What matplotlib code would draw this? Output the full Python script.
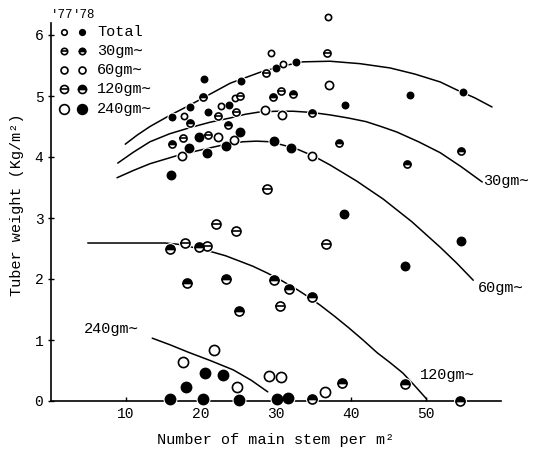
import matplotlib
matplotlib.use("Agg")
import matplotlib.pyplot as plt

FONT = ["Liberation Mono", "DejaVu Sans Mono"]
plt.rcParams["font.family"] = FONT

# ---- observations: number of main stems per m2 vs tuber weight (kg/m2) ----
total77_x = [36.9, 29.3, 30.9, 17.7, 22.7, 24.5]
total77_y = [6.30, 5.70, 5.52, 4.68, 4.84, 4.97]
total78_x = [20.4, 25.3, 30.0, 32.7, 39.2, 18.5, 16.1, 20.9, 23.7, 47.9, 54.9]
total78_y = [5.28, 5.25, 5.46, 5.55, 4.85, 4.82, 4.65, 4.74, 4.85, 5.02, 5.07]

g30_77_x = [36.8, 28.7, 25.2, 22.3, 24.7, 30.7, 17.6, 20.9]
g30_77_y = [5.70, 5.38, 5.00, 4.68, 4.74, 5.08, 4.31, 4.36]
g30_78_x = [20.3, 18.5, 23.6, 29.6, 32.3, 34.8, 16.1, 38.4, 47.5, 54.7]
g30_78_y = [4.98, 4.56, 4.52, 4.98, 5.03, 4.72, 4.21, 4.23, 3.89, 4.10]

g60_77_x = [37.1, 28.5, 30.8, 22.3, 17.5, 24.4, 34.8]
g60_77_y = [5.18, 4.77, 4.69, 4.33, 4.02, 4.28, 4.02]
g60_78_x = [18.4, 20.8, 23.3, 25.2, 19.7, 29.7, 32.0, 16.0, 39.1, 54.7, 47.2]
g60_78_y = [4.15, 4.07, 4.18, 4.41, 4.33, 4.26, 4.15, 3.70, 3.07, 2.62, 2.21]

g120_77_x = [28.8, 22.0, 24.7, 36.7, 17.9, 20.8, 30.5]
g120_77_y = [3.47, 2.90, 2.79, 2.57, 2.59, 2.54, 1.56]
g120_78_x = [15.9, 19.7, 18.1, 23.3, 29.7, 31.7, 34.8, 25.1, 47.2, 54.5, 38.8, 34.8]
g120_78_y = [2.49, 2.53, 1.93, 2.00, 1.98, 1.84, 1.70, 1.48, 0.28, 0.00, 0.30, 0.03]

g240_77_x = [21.7, 17.6, 24.8, 29.1, 30.7, 36.5]
g240_77_y = [0.84, 0.64, 0.23, 0.41, 0.39, 0.15]
g240_78_x = [20.5, 22.9, 18.0, 15.9, 20.3, 25.1, 30.1, 31.6]
g240_78_y = [0.46, 0.43, 0.23, 0.03, 0.03, 0.02, 0.03, 0.05]

# ---- response curves (points along each curve) ----
curve_total_x = [9.9, 11.5, 13.2, 15.8, 18.5, 21.2, 23.9, 25.9, 27.9, 30.8,
                 33.6, 37.2, 41.2, 45.2, 48.5, 51.9, 54.1, 56.5, 58.8]
curve_total_y = [4.21, 4.36, 4.50, 4.68, 4.85, 5.03, 5.21, 5.30, 5.39, 5.49,
                 5.56, 5.57, 5.53, 5.46, 5.36, 5.23, 5.10, 4.97, 4.82]
curve_30_x = [8.9, 11.0, 13.2, 15.8, 18.5, 21.2, 23.9, 25.9, 27.9, 30.1,
              32.3, 34.8, 37.2, 39.6, 42.0, 44.0, 46.1, 49.0, 51.9, 54.7, 57.5]
curve_30_y = [3.90, 4.08, 4.25, 4.38, 4.48, 4.57, 4.64, 4.70, 4.74, 4.75,
              4.75, 4.73, 4.69, 4.64, 4.58, 4.50, 4.41, 4.25, 4.07, 3.84, 3.59]
curve_60_x = [8.8, 11.0, 13.2, 15.1, 17.0, 19.1, 21.2, 23.4, 25.6, 27.4,
              29.2, 31.1, 33.0, 35.1, 37.2, 40.7, 44.3, 48.1, 51.9, 54.1, 56.3]
curve_60_y = [3.66, 3.78, 3.89, 3.96, 4.03, 4.09, 4.15, 4.21, 4.25, 4.26,
              4.25, 4.19, 4.12, 4.01, 3.87, 3.61, 3.31, 2.94, 2.52, 2.26, 1.98]
curve_120_x = [4.9, 10.0, 15.2, 16.9, 18.5, 20.0, 21.6, 23.3, 25.0, 26.9,
               28.8, 30.8, 32.9, 34.4, 35.9, 37.8, 39.7, 41.6, 43.5, 45.2,
               46.9, 48.5, 50.1]
curve_120_y = [2.59, 2.59, 2.59, 2.57, 2.53, 2.49, 2.44, 2.38, 2.30, 2.21,
               2.10, 1.97, 1.82, 1.70, 1.57, 1.39, 1.20, 1.00, 0.79, 0.63,
               0.46, 0.25, 0.03]
curve_240_x = [13.5, 15.9, 18.3, 21.3, 24.3, 26.7, 28.9]
curve_240_y = [1.03, 0.92, 0.80, 0.66, 0.51, 0.34, 0.15]

W, H = 547, 455
fig = plt.figure(figsize=(W / 100, H / 100), dpi=100)
x0_px, x_end_px, y0_px = 51, 501, 401
ppu_x, ppu_y = 7.5, 61.0
ymax = 6.45
ax = fig.add_axes([x0_px / W, 1 - y0_px / H,
                   (x_end_px - x0_px) / W, ymax * ppu_y / H])
ax.set_xlim(0, 60)
ax.set_ylim(0, ymax)

for s in ("top", "right"):
    ax.spines[s].set_visible(False)
ax.spines["left"].set_bounds(0, 6.2)
for s in ("left", "bottom"):
    ax.spines[s].set_linewidth(1.2)

ax.set_xticks([10, 20, 30, 40, 50])
ax.set_yticks([0, 1, 2, 3, 4, 5, 6])
ax.tick_params(axis="x", direction="in", length=3, width=1, labelsize=10.5, pad=4)
ax.tick_params(axis="y", direction="inout", length=5, width=1, labelsize=10.5, pad=3)

ax.set_xlabel("Number of main stem per m²", fontsize=11, labelpad=9)
ax.set_ylabel("Tuber weight (Kg/m²)", fontsize=11, labelpad=8)

LW = 1.1
for cx, cy in [(curve_total_x, curve_total_y), (curve_30_x, curve_30_y),
               (curve_60_x, curve_60_y), (curve_120_x, curve_120_y),
               (curve_240_x, curve_240_y)]:
    ax.plot(cx, cy, color="black", lw=LW, zorder=2, solid_capstyle="round",
            solid_joinstyle="round")

# curve labels
lab_kw = dict(fontsize=11, va="center", ha="left", family=FONT)
ax.text(57.6, 3.61, "30gm∼", **lab_kw)
ax.text(56.9, 1.85, "60gm∼", **lab_kw)
ax.text(49.2, 0.43, "120gm∼", **lab_kw)
ax.text(4.4, 1.18, "240gm∼", **lab_kw)

EW = 1.2


def draw(axis, xs, ys, kind, ms, halo=True, **kw):
    """kind: open, filled, theta, half"""
    if halo:
        axis.plot(xs, ys, "o", ms=ms + 2.8, mfc="white", mec="white",
                  mew=0, zorder=3, clip_on=False, **kw)
    if kind == "open":
        axis.plot(xs, ys, "o", ms=ms, mfc="white", mec="black", mew=EW,
                  zorder=4, clip_on=False, **kw)
    elif kind == "filled":
        axis.plot(xs, ys, "o", ms=ms, mfc="black", mec="black", mew=EW,
                  zorder=4, clip_on=False, **kw)
    elif kind == "theta":
        axis.plot(xs, ys, "o", ms=ms, mfc="white", mec="black", mew=EW,
                  zorder=4, clip_on=False, **kw)
        axis.plot(xs, ys, "_", ms=ms, mec="black", mew=EW,
                  zorder=5, clip_on=False, **kw)
    elif kind == "half":
        axis.plot(xs, ys, "o", ms=ms, fillstyle="top", mfc="black",
                  mfcalt="white", mec="black", mew=EW,
                  zorder=4, clip_on=False, **kw)


S_TOT, S30, S60, S120, S240 = 4.5, 5.1, 5.9, 6.5, 7.3
series = [
    (total77_x, total77_y, "open", S_TOT),
    (total78_x, total78_y, "filled", S_TOT),
    (g30_77_x, g30_77_y, "theta", S30),
    (g30_78_x, g30_78_y, "half", S30),
    (g60_77_x, g60_77_y, "open", S60),
    (g60_78_x, g60_78_y, "filled", S60),
    (g120_77_x, g120_77_y, "theta", S120),
    (g120_78_x, g120_78_y, "half", S120),
    (g240_77_x, g240_77_y, "open", S240),
    (g240_78_x, g240_78_y, "filled", S240),
]
for xs, ys, kind, ms in series:
    draw(ax, xs, ys, kind, ms)

# ---- key in the upper-left corner, placed in figure pixels ----
leg_rows = ["Total", "30gm∼", "60gm∼", "120gm∼", "240gm∼"]
leg_kinds = [("open", "filled", 4.0), ("theta", "half", 4.6),
             ("open", "open", 5.0), ("theta", "half", 5.8),
             ("open", "filled", 7.0)]
row_y = [32, 51, 70, 89, 109]
col_x = [64, 82]
tf = fig.transFigure


def fx(px):
    return px / W


def fy(py):
    return 1 - py / H


fig.text(fx(62), fy(15), "'77", ha="center", va="center", fontsize=9, family=FONT)
fig.text(fx(84), fy(15), "'78", ha="center", va="center", fontsize=9, family=FONT)
for name, (k77, k78, ms), py in zip(leg_rows, leg_kinds, row_y):
    draw(ax, [fx(col_x[0])], [fy(py)], k77, ms, halo=False, transform=tf)
    draw(ax, [fx(col_x[1])], [fy(py)], k78, ms, halo=False, transform=tf)
    fig.text(fx(97), fy(py), name, ha="left", va="center", fontsize=11, family=FONT)

fig.savefig("out.png", dpi=100)
